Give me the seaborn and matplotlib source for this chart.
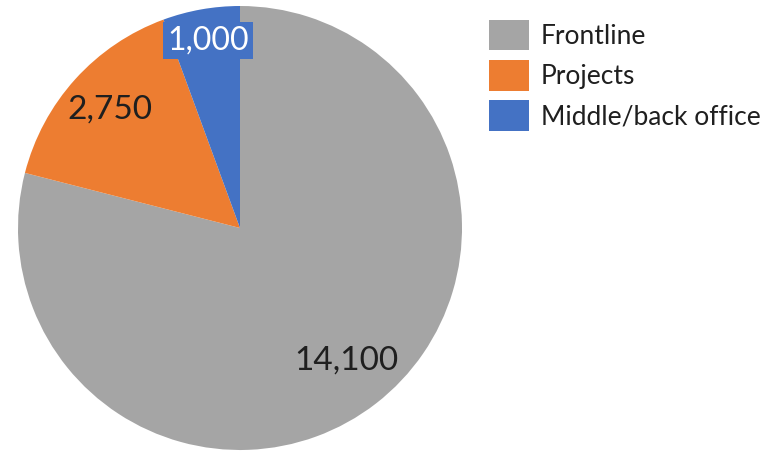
import matplotlib
matplotlib.use("Agg")
import matplotlib.pyplot as plt
import seaborn as sns

categories = ["Frontline", "Projects", "Middle/back office"]
values = [14100, 2750, 1000]
value_labels = ["14,100", "2,750", "1,000"]
colors = ["#A5A5A5", "#ED7D31", "#4472C4"]

sns.set_theme(style="white")
plt.rcParams["font.family"] = ["Lato", "DejaVu Sans"]

fig = plt.figure(figsize=(7.69, 4.54), dpi=100)
ax = fig.add_axes([18 / 769, 4 / 454, 444 / 769, 444 / 454])

wedges, _ = ax.pie(values, colors=colors, startangle=90, counterclock=False,
                   radius=1.0, wedgeprops=dict(linewidth=0))
ax.set_xlim(-1, 1)
ax.set_ylim(-1, 1)
ax.set_aspect("equal")
ax.axis("off")

# value labels placed inside each wedge
label_pos = [(0.48, -0.595), (-0.586, 0.532), (-0.144, 0.845)]
for i, (txt, (x, y)) in enumerate(zip(value_labels, label_pos)):
    if categories[i] == "Middle/back office":
        ax.text(x, y, txt, ha="center", va="center", fontsize=23, color="white",
                bbox=dict(boxstyle="square,pad=0.12", fc=colors[i], ec="none"))
    else:
        ax.text(x, y, txt, ha="center", va="center", fontsize=24, color="#1f1f1f")

fig.legend(wedges, categories, loc="upper left",
           bbox_to_anchor=(478 / 769, 1 - 9 / 454), frameon=False,
           borderaxespad=0, fontsize=19, handlelength=1.55, handleheight=1.42,
           handletextpad=0.42, labelspacing=0.36, labelcolor="#1f1f1f")

fig.savefig("out.png", dpi=100)
